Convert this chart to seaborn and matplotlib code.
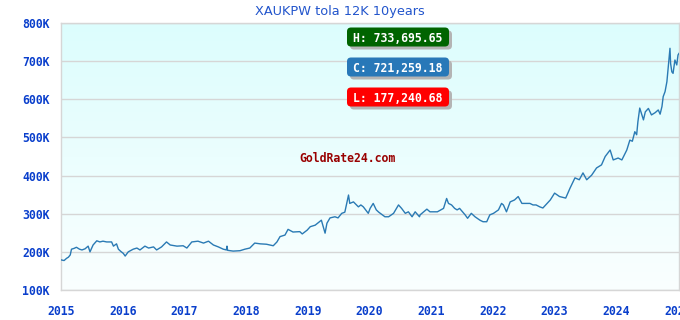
import numpy as np
import pandas as pd
import matplotlib
matplotlib.use("Agg")
import matplotlib.pyplot as plt
import seaborn as sns
from matplotlib.patches import FancyBboxPatch
from matplotlib.transforms import IdentityTransform
from matplotlib.ticker import FuncFormatter

# ---------------- data ----------------
years = [
    2015.00, 2015.05, 2015.09, 2015.12, 2015.15, 2015.17, 2015.21, 2015.25, 2015.30, 2015.34,
    2015.39, 2015.44, 2015.47, 2015.52, 2015.58, 2015.63, 2015.68, 2015.74, 2015.82, 2015.85,
    2015.90, 2015.93, 2015.97, 2016.01, 2016.04, 2016.09, 2016.17, 2016.23, 2016.28, 2016.36,
    2016.42, 2016.50, 2016.55, 2016.63, 2016.71, 2016.77, 2016.88, 2016.98, 2017.04, 2017.12,
    2017.22, 2017.31, 2017.39, 2017.47, 2017.55, 2017.63, 2017.68, 2017.69, 2017.70, 2017.79,
    2017.90, 2017.98, 2018.06, 2018.14, 2018.23, 2018.33, 2018.44, 2018.50, 2018.55, 2018.63,
    2018.68, 2018.76, 2018.87, 2018.91, 2018.99, 2019.04, 2019.12, 2019.22, 2019.25, 2019.28,
    2019.31, 2019.36, 2019.44, 2019.49, 2019.55, 2019.60, 2019.63, 2019.66, 2019.68, 2019.74,
    2019.82, 2019.86, 2019.90, 2019.98, 2020.01, 2020.06, 2020.11, 2020.15, 2020.25, 2020.31,
    2020.39, 2020.47, 2020.52, 2020.58, 2020.63, 2020.69, 2020.74, 2020.81, 2020.82, 2020.93,
    2020.98, 2021.05, 2021.10, 2021.20, 2021.25, 2021.28, 2021.33, 2021.38, 2021.42, 2021.46,
    2021.55, 2021.59, 2021.65, 2021.71, 2021.79, 2021.84, 2021.90, 2021.95, 2022.01, 2022.09,
    2022.14, 2022.17, 2022.22, 2022.28, 2022.35, 2022.41, 2022.47, 2022.54, 2022.60, 2022.65,
    2022.70, 2022.76, 2022.81, 2022.93, 2023.00, 2023.08, 2023.18, 2023.25, 2023.33, 2023.40,
    2023.46, 2023.52, 2023.60, 2023.68, 2023.76, 2023.82, 2023.90, 2023.95, 2024.03, 2024.09,
    2024.17, 2024.22, 2024.26, 2024.30, 2024.33, 2024.35, 2024.38, 2024.44, 2024.47, 2024.52,
    2024.57, 2024.63, 2024.68, 2024.71, 2024.74, 2024.76, 2024.79, 2024.82, 2024.84, 2024.87,
    2024.88, 2024.90, 2024.92, 2024.95, 2024.98, 2025.00, 2025.02,
]
price_k = [
    179, 177.24, 183, 186, 192, 207, 209, 212, 207, 205,
    208, 215, 200, 218, 229, 226, 228, 226, 226, 215,
    221, 207, 201, 196, 189, 200, 207, 210, 205, 215,
    210, 213, 205, 213, 226, 218, 215, 216, 210, 226,
    228, 223, 228, 218, 213, 207, 205, 215, 204, 202,
    203, 207, 210, 223, 221, 220, 216, 226, 240, 244,
    259, 252, 253, 247, 257, 266, 270, 283, 266, 249,
    275, 289, 292, 289, 301, 304, 327, 349, 327, 331,
    318, 323, 318, 301, 314, 327, 310, 304, 292, 292,
    301, 323, 314, 301, 305, 292, 305, 292, 297, 312,
    305, 305, 305, 314, 340, 327, 323, 314, 310, 314,
    297, 288, 301, 292, 283, 279, 279, 297, 301, 310,
    327, 323, 305, 331, 336, 345, 327, 327, 327, 323,
    323, 318, 315, 336, 354, 345, 341, 367, 394, 389,
    407, 389, 401, 420, 428, 450, 467, 441, 446, 441,
    467, 493, 490, 515, 507, 541, 577, 546, 567, 576,
    559, 565, 572, 561, 581, 607, 620, 646, 681, 733.70,
    694, 672, 668, 703, 690, 716, 721.26,
]
x_ticks = [2015, 2016, 2017, 2018, 2019, 2020, 2021, 2022, 2023, 2024, 2025]
y_ticks = [100, 200, 300, 400, 500, 600, 700, 800]
title_text = "XAUKPW tola 12K 10years"
badge_labels = ["H: 733,695.65", "C: 721,259.18", "L: 177,240.68"]
badge_colors = ["#006400", "#2878b8", "#ff0000"]
watermark = "GoldRate24.com"

df = pd.DataFrame({"year": years, "price": price_k})

# ---------------- figure ----------------
sns.set_theme(style="white")
plt.rcParams["font.family"] = ["DejaVu Sans"]

W, H = 680, 320
fig = plt.figure(figsize=(6.8, 3.2), dpi=100)
ax = fig.add_axes([61 / W, 1 - 290 / H, (679 - 61) / W, (290 - 23) / H])

x0, x1 = 2015.0, 2015 + (679 - 61) / 61.7
y0, y1 = 100, 800

# gradient background
grad = np.linspace(0, 1, 256).reshape(-1, 1)
top = np.array([220, 253, 253]) / 255
bot = np.array([250, 255, 255]) / 255
img = bot[None, None, :] * (1 - grad[:, :, None]) + top[None, None, :] * grad[:, :, None]
ax.imshow(img, extent=[x0, x1, y0, y1], origin="lower", aspect="auto", zorder=0)

for yt in y_ticks:
    ax.axhline(yt, color="#d6d6d6", lw=1.0, zorder=1)

sns.lineplot(data=df, x="year", y="price", ax=ax, color="#2a7ab4", lw=1.0, zorder=3)

ax.set_xlim(x0, x1)
ax.set_ylim(y0, y1)
ax.set_xticks(x_ticks)
ax.set_yticks(y_ticks)
ax.yaxis.set_major_formatter(FuncFormatter(lambda v, p: f"{v:.0f}K"))
ax.set_xlabel("")
ax.set_ylabel("")
for lab in ax.get_xticklabels() + ax.get_yticklabels():
    lab.set_fontfamily("DejaVu Sans Mono")
    lab.set_fontweight("bold")
    lab.set_fontsize(8.3)
    lab.set_color("#0a3fcc")
ax.tick_params(axis="both", length=0)
ax.tick_params(axis="y", pad=8)
ax.tick_params(axis="x", pad=11)
for s in ax.spines.values():
    s.set_color("#d6d6d6")
    s.set_linewidth(1.0)
ax.grid(False)

# title
fig.text(340 / W, 1 - 11 / H, title_text, ha="center", va="center",
         fontsize=9.3, color="#2255cc", family="DejaVu Sans")

# badges
ident = IdentityTransform()
box_tops = [27.5, 57.5, 87.5]
for lab, col, yt in zip(badge_labels, badge_colors, box_tops):
    bx, bw, bh = 347, 102, 19
    by = H - yt - bh
    sh = FancyBboxPatch((bx + 3, by - 3), bw, bh, boxstyle="round,pad=0,rounding_size=4",
                        transform=ident, fc="#b4b4b4", ec="none", zorder=5)
    fig.add_artist(sh)
    bp = FancyBboxPatch((bx, by), bw, bh, boxstyle="round,pad=0,rounding_size=4",
                        transform=ident, fc=col, ec="none", zorder=6)
    fig.add_artist(bp)
    fig.text((bx + bw / 2) / W, (by + bh / 2) / H, lab, ha="center", va="center_baseline",
             color="white", family="DejaVu Sans Mono", weight="bold", fontsize=8.3, zorder=7)

# watermark
fig.text(348 / W, 1 - 158 / H, watermark, ha="center", va="center",
         color="#990000", family="DejaVu Sans Mono", weight="bold", fontsize=8.3)

fig.savefig("out.png", dpi=100)
